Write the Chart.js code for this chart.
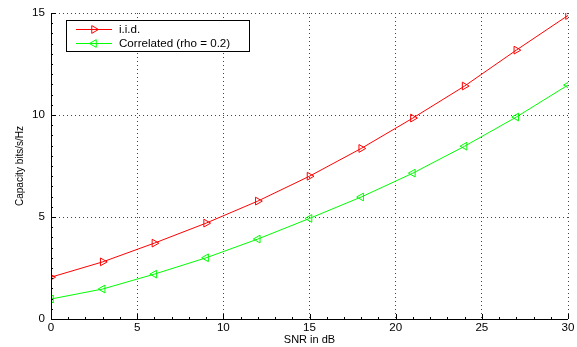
<!DOCTYPE html>
<html>
<head>
<meta charset="utf-8">
<script src="https://cdn.jsdelivr.net/npm/chart.js@4/dist/chart.umd.min.js"></script>
<style>
  html, body { margin: 0; padding: 0; background: #fff; }
  #wrap { width: 577px; height: 347px; }
</style>
</head>
<body>
<div id="wrap"><canvas id="capChart" width="577" height="347"></canvas></div>
<script>
// SNR (dB) values
const snr = [0, 3, 6, 9, 12, 15, 18, 21, 24, 27, 30];
// capacity, i.i.d. channel
const capIid = [2.05, 2.8, 3.72, 4.7, 5.78, 7.0, 8.36, 9.85, 11.42, 13.18, 14.88];
// capacity, correlated channel
const capCorr = [0.98, 1.47, 2.2, 3.0, 3.92, 4.93, 5.98, 7.15, 8.47, 9.9, 11.47];

const seriesNames = ['i.i.d.', 'Correlated (rho = 0.2)'];
const xTicks = [0, 5, 10, 15, 20, 25, 30];
const yTicks = [0, 5, 10, 15];

const FONT = '"Liberation Sans", Arial, Helvetica, sans-serif';

// legend box drawn inside the plot, matlab style
const boxLegend = {
    id: 'boxLegend',
    afterDraw(chart) {
        const ctx = chart.ctx;
        const area = chart.chartArea;
        const x0 = area.left + 15, y0 = area.top + 7;
        const w = 183, h = 31;
        ctx.save();
        ctx.fillStyle = '#fff';
        ctx.fillRect(x0, y0, w, h);
        ctx.strokeStyle = '#000';
        ctx.lineWidth = 1;
        ctx.setLineDash([]);
        ctx.strokeRect(x0 + 0.5, y0 + 0.5, w, h);
        ctx.font = '11.6px ' + FONT;
        ctx.textBaseline = 'middle';
        chart.data.datasets.forEach((ds, i) => {
            const cy = y0 + 9 + i * 14;
            ctx.strokeStyle = ds.borderColor;
            ctx.beginPath();
            ctx.moveTo(x0 + 10, cy + 0.5);
            ctx.lineTo(x0 + 46, cy + 0.5);
            ctx.stroke();
            ctx.fillStyle = 'rgba(0,0,0,0)';
            Chart.helpers.drawPoint(ctx, {
                pointStyle: 'triangle', rotation: ds.pointRotation, radius: 4.5, borderWidth: 1
            }, x0 + 28, cy + 0.5);
            ctx.fillStyle = '#000';
            ctx.fillText(ds.label, x0 + 53, cy + 1);
        });
        ctx.restore();
    }
};

// small ticks along the axes
const minorTicks = {
    id: 'minorTicks',
    afterDraw(chart) {
        const ctx = chart.ctx;
        const xs = chart.scales.x, ys = chart.scales.y;
        ctx.save();
        ctx.strokeStyle = '#000';
        ctx.lineWidth = 1;
        ctx.setLineDash([]);
        ctx.beginPath();
        for (let v = xs.min; v <= xs.max; v += 1) {
            const px = Math.round(xs.getPixelForValue(v)) + 0.5;
            const len = v % 5 === 0 ? 5 : 2;
            ctx.moveTo(px, ys.bottom);
            ctx.lineTo(px, ys.bottom - len);
        }
        for (let v = ys.min; v <= ys.max; v += 0.5) {
            const py = Math.round(ys.getPixelForValue(v)) + 0.5;
            const len = v % 5 === 0 ? 5 : 2;
            ctx.moveTo(xs.left, py);
            ctx.lineTo(xs.left + len, py);
        }
        // solid axis lines on left and bottom
        ctx.moveTo(xs.left + 0.5, ys.top);
        ctx.lineTo(xs.left + 0.5, ys.bottom);
        ctx.moveTo(xs.left, ys.bottom + 0.5);
        ctx.lineTo(xs.right, ys.bottom + 0.5);
        ctx.stroke();
        ctx.restore();
    }
};

const ctx = document.getElementById('capChart').getContext('2d');
new Chart(ctx, {
    type: 'line',
    data: {
        labels: snr,
        datasets: [
            {
                label: seriesNames[0],
                data: snr.map((s, i) => ({ x: s, y: capIid[i] })),
                borderColor: '#ff0000',
                backgroundColor: 'rgba(0,0,0,0)',
                borderWidth: 1,
                pointStyle: 'triangle',
                pointRotation: 90,
                pointRadius: 4.5,
                pointBorderWidth: 1,
                tension: 0
            },
            {
                label: seriesNames[1],
                data: snr.map((s, i) => ({ x: s, y: capCorr[i] })),
                borderColor: '#00ff00',
                backgroundColor: 'rgba(0,0,0,0)',
                borderWidth: 1,
                pointStyle: 'triangle',
                pointRotation: -90,
                pointRadius: 4.5,
                pointBorderWidth: 1,
                tension: 0
            }
        ]
    },
    options: {
        responsive: false,
        animation: false,
        layout: { padding: { left: 0, right: 9, top: 13, bottom: 0 } },
        plugins: {
            legend: { display: false },
            tooltip: { enabled: false }
        },
        scales: {
            x: {
                type: 'linear',
                min: 0, max: 30,
                afterBuildTicks: (s) => { s.ticks = xTicks.map(v => ({ value: v })); },
                afterFit: (s) => { s.height = 28; s.paddingLeft = 0; s.paddingRight = 0; },
                grid: { color: '#444', lineWidth: 1, drawTicks: false },
                border: { display: false, dash: [1, 3] },
                ticks: { color: '#000', font: { family: FONT, size: 11.6 }, padding: 2, maxRotation: 0 },
                title: {
                    display: true, text: 'SNR in dB', color: '#000',
                    font: { family: FONT, size: 11 }, padding: { top: -2, bottom: 0 }
                }
            },
            y: {
                type: 'linear',
                min: 0, max: 15,
                afterBuildTicks: (s) => { s.ticks = yTicks.map(v => ({ value: v })); },
                afterFit: (s) => { s.width = 51; s.paddingTop = 0; s.paddingBottom = 0; },
                grid: { color: '#444', lineWidth: 1, drawTicks: false },
                border: { display: false, dash: [1, 3] },
                ticks: { color: '#000', font: { family: FONT, size: 11.6 }, padding: 6 },
                title: {
                    display: true, text: 'Capacity bits/s/Hz', color: '#000',
                    font: { family: FONT, size: 10 }, padding: { top: 14, bottom: 0 }
                }
            }
        }
    },
    plugins: [boxLegend, minorTicks]
});
</script>
</body>
</html>
